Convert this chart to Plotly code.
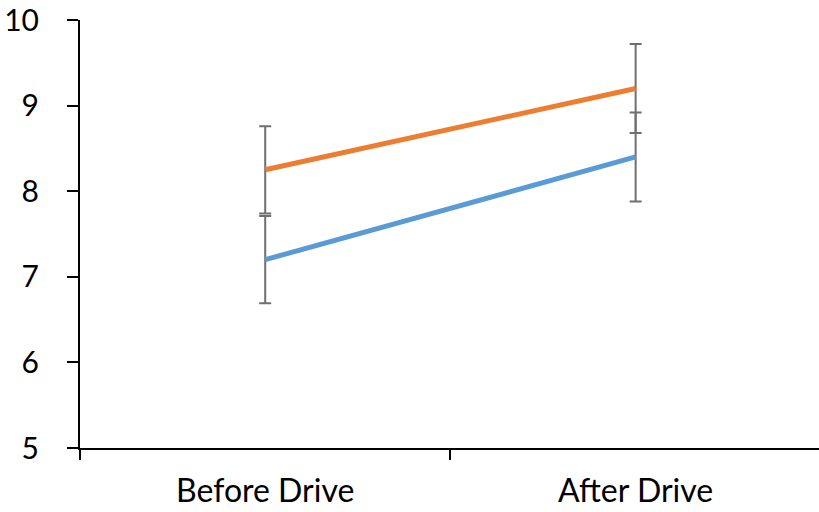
import plotly.graph_objects as go

categories = ["Before Drive", "After Drive"]
orange_values = [8.25, 9.2]
orange_err = [0.51, 0.52]
blue_values = [7.2, 8.4]
blue_err = [0.51, 0.52]
y_ticks = [5, 6, 7, 8, 9, 10]

fig = go.Figure()
for vals, errs, color in [(blue_values, blue_err, "#5B9BD5"), (orange_values, orange_err, "#ED7D31")]:
    fig.add_trace(go.Scatter(
        x=categories, y=vals, mode="lines",
        line=dict(color=color, width=5),
        error_y=dict(type="data", array=errs, visible=True, color="#6F6F6F", thickness=2, width=6),
        showlegend=False,
    ))

fig.update_layout(
    width=819, height=512,
    margin=dict(l=80, r=0, t=20, b=64),
    paper_bgcolor="white", plot_bgcolor="white",
    font=dict(family="Lato, Carlito, Calibri, sans-serif", color="black", size=28),
    xaxis=dict(
        type="category", range=[-0.5, 1.495],
        showline=True, linecolor="black", linewidth=2,
        ticks="outside", ticklen=10, tickwidth=1.5, tickcolor="black",
        tickson="boundaries", showgrid=False, zeroline=False,
        tickfont=dict(size=32),
        ticklabelstandoff=14,
        automargin=False,
    ),
    yaxis=dict(
        range=[5, 10], tickvals=y_ticks,
        showline=True, linecolor="black", linewidth=2,
        ticks="outside", ticklen=11, tickwidth=2, tickcolor="black",
        showgrid=False, zeroline=False,
        tickfont=dict(size=30),
        ticklabelstandoff=22,
        automargin=False,
    ),
)

fig.write_html("out.html")
